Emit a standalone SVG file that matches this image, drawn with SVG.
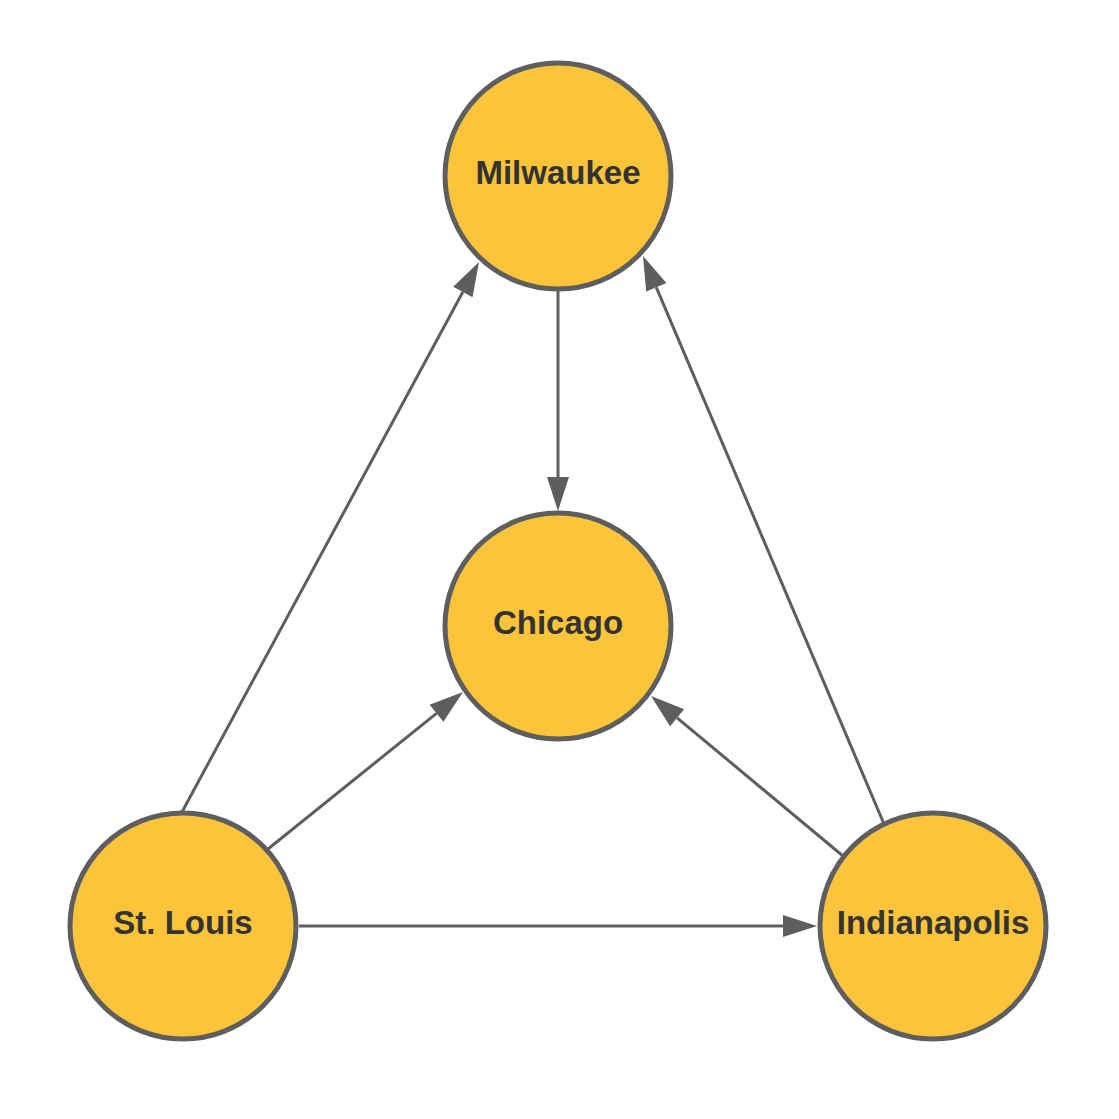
<svg xmlns="http://www.w3.org/2000/svg" width="1119" height="1119" viewBox="0 0 1119 1119">
<style>
.node circle{fill:#fbc43a;stroke:#5e5e5e;stroke-width:5}
.node text{font-family:"Liberation Sans",Arial,sans-serif;font-weight:bold;font-size:33px;fill:#333333;text-anchor:middle}
.edges line{stroke:#5e5e5e;stroke-width:3;marker-end:url(#arr)}
</style>
<defs>
<marker id="arr" markerUnits="userSpaceOnUse" markerWidth="34" markerHeight="22" refX="0" refY="11" orient="auto" overflow="visible">
<path d="M0,0 L34,11 L0,22 z" fill="#5e5e5e"/>
</marker>
</defs>
<rect width="1119" height="1119" fill="#ffffff"/>
<g class="edges">
<line x1="558" y1="291" x2="558" y2="477"/>
<line x1="182" y1="812" x2="462.85" y2="291.92"/>
<line x1="268" y1="849" x2="436.5" y2="713.3"/>
<line x1="299" y1="926" x2="783" y2="926"/>
<line x1="843" y1="856" x2="677.1" y2="717.8"/>
<line x1="884" y1="824" x2="656.3" y2="287.3"/>
</g>
<g id="milwaukee" class="node"><circle cx="558" cy="176" r="113"/><text x="558" y="184">Milwaukee</text></g>
<g id="chicago" class="node"><circle cx="558" cy="626" r="113"/><text x="558" y="634">Chicago</text></g>
<g id="stlouis" class="node"><circle cx="183" cy="926" r="113"/><text x="183" y="934">St. Louis</text></g>
<g id="indianapolis" class="node"><circle cx="933" cy="926" r="113"/><text x="933" y="934">Indianapolis</text></g>
</svg>
